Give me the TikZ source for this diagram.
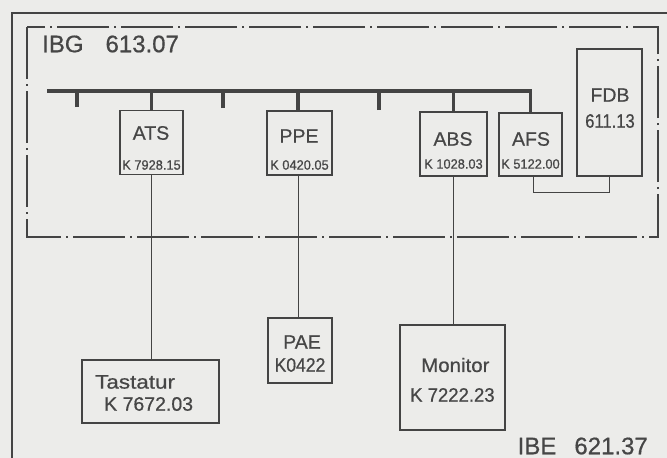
\documentclass[tikz,border=0pt]{standalone}
\usepackage{fontspec}
\setmainfont{Liberation Sans}
\newfontfamily\dinfont{Liberation Sans}[FakeBold=0.6]
\definecolor{paper}{RGB}{236,236,234}
\definecolor{ink}{RGB}{68,68,68}
\definecolor{txt}{RGB}{70,70,70}
\begin{document}
\begin{tikzpicture}[x=1pt,y=-1pt,
  box/.style={draw=ink,line width=1.6pt,rectangle,inner sep=0pt},
  lbl/.style={text=txt,inner sep=0pt,font=\dinfont\fontsize{19.5}{19.5}\selectfont},
  code/.style={text=txt,inner sep=0pt,font=\dinfont\fontsize{13.5}{13.5}\selectfont},
  big/.style={text=txt,inner sep=0pt,font=\dinfont\fontsize{24}{24}\selectfont},
  bus/.style={draw=ink,line width=3.6pt},
  wire/.style={draw=ink,line width=1pt},
  frame/.style={draw=ink,line width=2.2pt},
  dashdot/.style={draw=ink,line width=1.4pt,dash pattern=on 52pt off 5pt on 2pt off 5pt}]
\fill[paper] (0,0) rectangle (667,458);
\useasboundingbox (0,0) rectangle (667,458);
% outer frame (only top and left visible)
\draw[frame] (12,458) -- (12,13) -- (667,13);
% inner dash-dot frame
\draw[dashdot] (27,27) rectangle (658,237);
\node[big,anchor=west] (ibg) at (42,44) {IBG\hspace{22pt}613.07};
\node[big,anchor=east] (ibe) at (648,446) {IBE\hspace{18pt}621.37};
% boxes
\node[box,minimum width=63pt,minimum height=64pt] (ATS) at (151.5,142.5) {};
\node[box,minimum width=65pt,minimum height=64pt] (PPE) at (299.5,143) {};
\node[box,minimum width=67pt,minimum height=64pt] (ABS) at (453.5,144) {};
\node[box,minimum width=63pt,minimum height=63pt] (AFS) at (530.5,144.5) {};
\node[box,minimum width=65pt,minimum height=127pt] (FDB) at (609.5,112.5) {};
\node[box,minimum width=137pt,minimum height=63pt] (TAS) at (150.5,391.5) {};
\node[box,minimum width=64pt,minimum height=65pt] (PAE) at (300,350.5) {};
\node[box,minimum width=105pt,minimum height=105pt] (MON) at (452.5,377.5) {};
% labels
\node[lbl] (atsl) at (151,133) {ATS};
\node[code] (atsc) at (151.5,165) {\scalebox{0.95}[1]{K 7928.15}};
\node[lbl] (ppel) at (299,136) {PPE};
\node[code] (ppec) at (299.5,165) {\scalebox{0.95}[1]{K 0420.05}};
\node[lbl] (absl) at (453,139) {ABS};
\node[code] (absc) at (453.5,164) {\scalebox{0.95}[1]{K 1028.03}};
\node[lbl] (afsl) at (531,139) {AFS};
\node[code] (afsc) at (530.5,164) {\scalebox{0.95}[1]{K 5122.00}};
\node[lbl] (fdbl) at (610,95) {FDB};
\node[lbl] (fdbc) at (610,121) {\scalebox{0.85}[1]{611.13}};
\node[lbl,anchor=west] (tasl) at (95,382) {\scalebox{1.15}[1]{Tastatur}};
\node[lbl,anchor=west] (tasc) at (104,404) {K 7672.03};
\node[lbl] (pael) at (302,342) {PAE};
\node[lbl] (paec) at (300,365) {\scalebox{0.9}[1]{K0422}};
\node[lbl,anchor=west] (monl) at (421,365) {\scalebox{1.05}[1]{Monitor}};
\node[lbl,anchor=west] (monc) at (410,395) {\scalebox{0.95}[1]{K 7222.23}};
% bus
\coordinate (busL) at (47,91);
\coordinate (busR) at (530.5,91);
\coordinate (s1) at (77,107);
\coordinate (s2) at (223,108);
\coordinate (s3) at (379,110);
\draw[bus] (busL) -- (busR) -- (AFS.north);
\draw[bus] (s1) -- (s1 |- busL);
\draw[bus] (s2) -- (s2 |- busL);
\draw[bus] (s3) -- (s3 |- busL);
\draw[bus] (ATS.north) -- (ATS.north |- busL);
\draw[bus] (PPE.north -| 298,0) -- (298,91);
\draw[bus] (ABS.north) -- (ABS.north |- busL);
% wires
\draw[wire] (ATS.south) -- (ATS.south |- TAS.north);
\draw[wire] (PPE.south -| 298,0) -- (PAE.north -| 298,0);
\draw[wire] (ABS.south) -- (ABS.south |- MON.north);
\draw[wire] (AFS.south -| 533,0) -- (533,192) -| (FDB.south);
\end{tikzpicture}
\end{document}
